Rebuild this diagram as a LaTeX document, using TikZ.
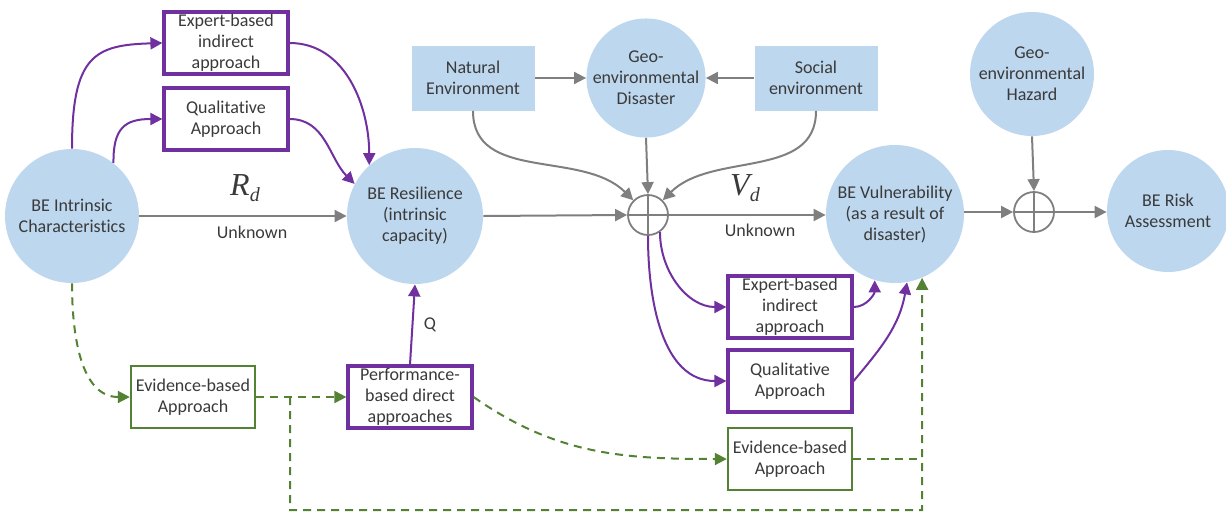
\documentclass[tikz,border=0pt]{standalone}
\usepackage{fontspec}
\setmainfont{Carlito}[Ligatures=NoCommon]
\newfontfamily\timesf{Liberation Serif}
\usetikzlibrary{arrows.meta}
\definecolor{cblue}{HTML}{BDD7EE}
\definecolor{cpurple}{HTML}{7030A0}
\definecolor{cgreen}{HTML}{548235}
\definecolor{cgray}{HTML}{7F7F7F}
\definecolor{ctext}{HTML}{3A3A3A}
\newcommand{\symlab}[2]{{\timesf\itshape\fontsize{16}{16}\selectfont #1\raisebox{-3pt}{\fontsize{10}{10}\selectfont #2}}}
\tikzset{
  txt/.style={font=\fontsize{9}{10.5}\selectfont, text=ctext, align=center},
  bubble/.style={circle, fill=cblue, txt, inner sep=0pt},
  envbox/.style={rectangle, fill=cblue, txt, minimum width=61.5pt, minimum height=32.5pt, inner sep=1pt},
  pbox/.style={rectangle, draw=cpurple, line width=1.6pt, fill=white, txt, minimum width=62pt, minimum height=31pt, inner sep=1pt},
  gbox/.style={rectangle, draw=cgreen, line width=1.2pt, fill=white, txt, minimum width=62pt, minimum height=31pt, inner sep=1pt},
  plus/.style={circle, draw=cgray, line width=0.9pt, minimum size=20pt, inner sep=0pt},
  garrow/.style={draw=cgray, line width=1pt, -{Triangle[length=6pt,width=6pt]}},
  parrow/.style={draw=cpurple, line width=1pt, -{Triangle[length=6pt,width=6pt]}},
  grarrow/.style={draw=cgreen, line width=1pt, dash pattern=on 4pt off 3pt, -{Triangle[length=6pt,width=6pt]}},
  grline/.style={draw=cgreen, line width=1pt, dash pattern=on 4pt off 3pt},
}
\begin{document}
\begin{tikzpicture}[x=0.5pt,y=-0.5pt]
\useasboundingbox (0,0) rectangle (1226,515);
% circles
\node[bubble, minimum size=67pt] (intr) at (72,216) {BE Intrinsic\\Characteristics};
\node[bubble, minimum size=68pt] (res) at (415,216) {BE Resilience\\(intrinsic\\capacity)};
\node[bubble, minimum size=58pt] (dis) at (646,78) {Geo-\\environmental\\Disaster};
\node[bubble, minimum size=69pt] (vul) at (895,214) {BE Vulnerability\\(as a result of\\disaster)};
\node[bubble, minimum size=62pt] (haz) at (1032,74) {Geo-\\environmental\\Hazard};
\node[bubble, minimum size=61pt] (risk) at (1168,211) {BE Risk\\Assessment};
% plus junctions
\node[plus] (op1) at (648,215) {};
\draw[cgray, line width=0.9pt] (op1.north) -- (op1.south) (op1.west) -- (op1.east);
\node[plus] (op2) at (1034,212) {};
\draw[cgray, line width=0.9pt] (op2.north) -- (op2.south) (op2.west) -- (op2.east);
% boxes
\node[pbox] (exL) at (226,43) {Expert-based\\indirect\\approach};
\node[pbox] (quL) at (226,119) {Qualitative\\Approach};
\node[envbox] (natE) at (473,78) {Natural\\Environment};
\node[envbox] (socE) at (816,78) {Social\\environment};
\node[gbox] (evL) at (193,397) {Evidence-based\\Approach};
\node[pbox] (perf) at (410,397) {Performance-\\based direct\\approaches};
\node[pbox] (exR) at (790,307) {Expert-based\\indirect\\approach};
\node[pbox] (quR) at (790,381) {Qualitative\\Approach};
\node[gbox] (evR) at (790,459) {Evidence-based\\Approach};
% labels
\node[text=ctext] (rd) at (245,188) {\symlab{R}{d}};
\node[txt] (unk1) at (252,232) {Unknown};
\node[text=ctext] (vd) at (745,188) {\symlab{V}{d}};
\node[txt] (unk2) at (760,230) {Unknown};
\node[txt] (q) at (430,325) {Q};
% gray connectors
\draw[garrow] (intr.east) -- (res.west);
\draw[garrow] (res.east) -- (op1.west);
\draw[garrow] (op1.east) -- (op1.east -| vul.west);
\draw[garrow] (op2.west -| vul.east) -- (op2.west);
\draw[garrow] (op2.east) -- (op2.east -| risk.west);
\draw[garrow] (haz.south) -- (op2.north);
\draw[garrow] (dis.south) -- (op1.north);
\draw[garrow] (natE.east) -- (dis.west);
\draw[garrow] (socE.west) -- (dis.east);
\draw[garrow] (natE.south) to[out=-90,in=135] (op1.north west);
\draw[garrow] (socE.south) to[out=-90,in=45] (op1.north east);
% purple connectors
\draw[parrow] (intr.north) .. controls (72,55) and (95,45) .. (exL.west);
\draw[parrow] (intr.52) .. controls (113,128) and (125,119) .. (quL.west);
\draw[parrow] (exL.east) to[out=0,in=90] (res.132);
\draw[parrow] (quL.east) to[out=0,in=135] (res.152);
\draw[parrow] (perf.north) -- (res.south);
\draw[parrow] (op1.-55) to[out=-90,in=180] (exR.west);
\draw[parrow] (op1.south) to[out=-90,in=180] (quR.west);
\draw[parrow] (exR.east) to[out=0,in=-90] (vul.253);
\draw[parrow] (quR.east) to[out=50,in=-100] (vul.-80);
% green connectors
\coordinate (j1) at (290,397);
\coordinate (j2) at (922,510);
\coordinate (j3) at (922,459);
\draw[grarrow] (intr.south) to[out=-90,in=180] (evL.west);
\draw[grarrow] (evL.east) -- (perf.west);
\draw[grarrow] (j1) |- (j2) -- (vul.-67);
\draw[grline] (evR.east) -- (j3);
\draw[grarrow] (perf.east) to[out=-35,in=180] (evR.west);
\end{tikzpicture}
\end{document}
